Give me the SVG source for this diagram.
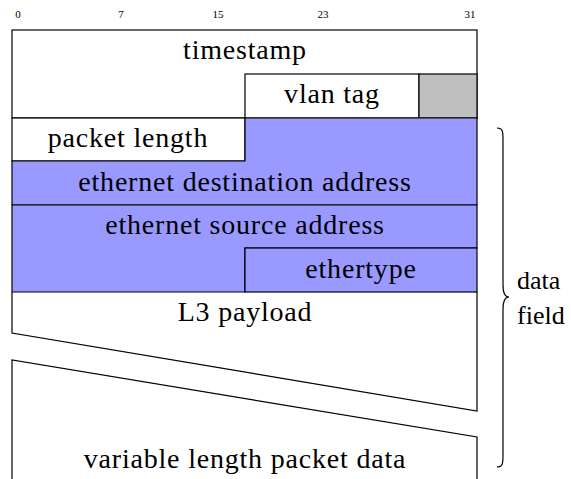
<svg xmlns="http://www.w3.org/2000/svg" width="571" height="479" viewBox="0 0 571 479">
  <style>
    .box { stroke: #000; stroke-width: 1.2; }
    .white { fill: #fff; }
    .blue { fill: #9999ff; }
    .grey { fill: #bfbfbf; }
    .line { fill: none; stroke: #000; stroke-width: 1.2; }
  </style>
  <rect width="571" height="479" fill="#fff"/>

  <g id="bits" font-family="'Liberation Serif', 'DejaVu Serif', serif" font-size="11" text-anchor="middle">
    <text x="18" y="18">0</text>
    <text x="121" y="18">7</text>
    <text x="218" y="18">15</text>
    <text x="323" y="18">23</text>
    <text x="470" y="18">31</text>
  </g>

  <g font-family="'Liberation Serif', 'DejaVu Serif', serif" font-size="28" letter-spacing="0.8" text-anchor="middle">
    <g id="timestamp">
      <rect class="box white" x="12" y="30" width="465" height="88"/>
      <text x="245" y="59">timestamp</text>
    </g>
    <g id="vlan-tag">
      <rect class="box white" x="245" y="74" width="174" height="44"/>
      <text x="332" y="103">vlan tag</text>
    </g>
    <g id="vlan-pad">
      <rect class="box grey" x="419" y="74" width="58" height="44"/>
    </g>
    <g id="packet-length">
      <rect class="box white" x="12" y="118" width="233" height="43"/>
      <text x="128" y="147">packet length</text>
    </g>
    <g id="eth-dst">
      <path class="box blue" d="M245 118 H477 V205 H12 V161 H245 Z"/>
      <text x="245" y="191">ethernet destination address</text>
    </g>
    <g id="eth-src">
      <path class="box blue" d="M12 205 H477 V248 H245 V292 H12 Z"/>
      <text x="245" y="234">ethernet source address</text>
    </g>
    <g id="ethertype">
      <rect class="box blue" x="245" y="248" width="232" height="44"/>
      <text x="361" y="278">ethertype</text>
    </g>
    <g id="l3-payload">
      <path class="line" d="M12 292 V333 L477 411 V292"/>
      <text x="245" y="321">L3 payload</text>
    </g>
    <g id="packet-data">
      <path class="line" d="M12 479 V360 L477 437 V479"/>
      <text x="245" y="468">variable length packet data</text>
    </g>

    <g id="data-field">
      <path class="line" d="M497 128 C503 128 503 132 503 140 V285 C503 293 505 297 509 297 C505 297 503 301 503 309 V455 C503 463 503 467 497 467"/>
      <text x="517" y="289" font-size="26" letter-spacing="0" text-anchor="start">data</text>
      <text x="517" y="324" font-size="26" letter-spacing="0" text-anchor="start">field</text>
    </g>
  </g>
</svg>
